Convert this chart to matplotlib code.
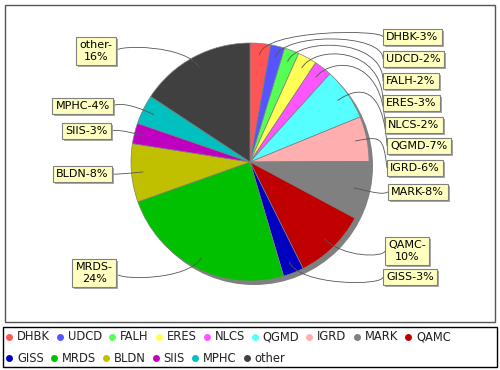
import numpy as np
import matplotlib
matplotlib.use("Agg")
import matplotlib.pyplot as plt
from matplotlib.path import Path
from matplotlib.patches import PathPatch, Circle, Rectangle

# datos (porcentaje aproximado de cada sector)
names = ["DHBK", "UDCD", "FALH", "ERES", "NLCS", "QGMD", "IGRD", "MARK",
         "QAMC", "GISS", "MRDS", "BLDN", "SIIS", "MPHC", "other"]
values = [2.8, 1.9, 2.0, 2.6, 2.4, 7.1, 6.1, 7.9, 9.8, 2.8, 24.1, 7.9, 2.8, 4.0, 15.7]
colors = ["#FF5555", "#5555FF", "#55FF55", "#FFFF55", "#FF55FF", "#55FFFF",
          "#FFAFAF", "#808080", "#C00000", "#0000C0", "#00C000", "#C0C000",
          "#C000C0", "#00C0C0", "#404040"]
wrapped = ["QAMC", "MRDS", "other"]

# posicion de las etiquetas (pixeles): borde de la caja junto al pastel, centro vertical
label_x = [383, 383, 383, 383, 385, 387, 387, 388, 385, 383, 116, 112, 111, 113, 116]
label_y = [37, 59, 81, 103, 125, 146, 168, 192, 251, 277, 273, 174, 131, 106, 51]

fig = plt.figure(figsize=(5, 3.7), dpi=100)
ax = fig.add_axes([0, 0, 1, 1])
cx, cy, R = 250, 162, 119

# sombra del pastel
ax.add_patch(Circle((cx + 4, cy + 4), R, fc="#808080", ec="none", zorder=0))
ax.pie(values, colors=colors, startangle=-90, counterclock=True,
       center=(cx, cy), radius=R, wedgeprops=dict(ec="#808080", lw=0.5))
ax.set_xlim(0, 500)
ax.set_ylim(370, 0)
ax.set_aspect("auto")
ax.axis("off")

# bordes del area del grafico y de la leyenda
ax.add_patch(Rectangle((5, 5), 490, 317, fc="none", ec="#555555", lw=1, zorder=0))
ax.add_patch(Rectangle((3, 327), 494, 40, fc="none", ec="black", lw=1, zorder=0))

total = sum(values)
cum = np.cumsum([0] + values[:-1])
pad = 3.3
for i, name in enumerate(names):
    pct = round(values[i] / total * 100)
    sep = "-\n" if name in wrapped else "-"
    txt = f"{name}{sep}{pct}%"
    theta = 2 * np.pi * (cum[i] + values[i] / 2) / total
    dx, dy = np.sin(theta), -np.cos(theta)
    right = dx > 0
    link = (cx + 0.9 * R * dx, cy + 0.9 * R * dy)
    elbow = (cx + 1.12 * R * dx, cy + 1.12 * R * dy)
    anchor = (cx + 1.12 * R if right else cx - 1.12 * R, elbow[1])
    target = (label_x[i], label_y[i])
    path = Path([link, elbow, anchor, target],
                [Path.MOVETO, Path.CURVE4, Path.CURVE4, Path.CURVE4])
    ax.add_patch(PathPatch(path, fc="none", ec="#555555", lw=0.6, zorder=3))

    tx = label_x[i] + pad if right else label_x[i] - pad
    ha = "left" if right else "right"
    ax.text(tx + 2, label_y[i] + 2, txt, fontsize=8, ha=ha, va="center",
            multialignment="center", color="none", zorder=4,
            bbox=dict(boxstyle="square,pad=0.3", fc="#A8A8A8", ec="none"))
    ax.text(tx, label_y[i], txt, fontsize=8, ha=ha, va="center",
            multialignment="center", color="black", zorder=5,
            bbox=dict(boxstyle="square,pad=0.3", fc="#FFFFC0", ec="#808080", lw=0.8))

# leyenda en flujo horizontal
renderer = fig.canvas.get_renderer()
x, y = 9, 337
for name, c in zip(names, colors):
    t = ax.text(x + 8, y, name, fontsize=8.3, va="center", ha="left", color="#222222")
    w = t.get_window_extent(renderer).width
    if x + 8 + w > 490:
        x, y = 9, y + 21
        t.set_position((x + 8, y))
    ax.plot(x, y, "o", ms=5, color=c, mec="none")
    x = x + 8 + w + 10

fig.savefig("out.png", dpi=100)
